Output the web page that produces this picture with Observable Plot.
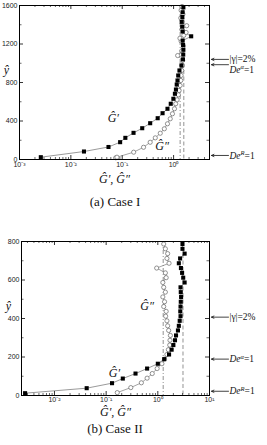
<!DOCTYPE html>
<html><head><meta charset="utf-8">
<script src="https://cdn.jsdelivr.net/npm/d3@7"></script>
<script src="https://cdn.jsdelivr.net/npm/@observablehq/plot@0.6"></script>
<style>
body{margin:0;background:#fff;width:267px;height:445px;position:relative;overflow:hidden;font-family:"Liberation Sans",Arial,sans-serif}
.panel{position:absolute;left:0;width:267px}
.cap{position:absolute;left:0;width:230px;text-align:center;font-family:"Liberation Serif","DejaVu Serif",serif;font-size:13px;color:#111;line-height:15px}
</style></head><body>
<div id="a" class="panel" style="top:0px"></div>
<div class="cap" style="top:194px">(a) Case I</div>
<div id="b" class="panel" style="top:235.7px"></div>
<div class="cap" style="top:421px">(b) Case II</div>
<script>
// ---------- Case I data ----------
const caseI_yGp = [24,83,130,180,225,277,325,377,429,481,527,579,631,683,727,779,821,873,925,977,1040,1090,1140,1190,1235,1280,1330,1380,1430,1480,1530,1580];
const caseI_Gp  = [0.0026,0.018,0.054,0.091,0.115,0.166,0.245,0.35,0.49,0.61,0.76,0.88,0.99,1.06,1.11,1.15,1.19,1.23,1.30,1.42,1.52,1.54,1.55,1.53,1.50,2.2,1.50,1.47,1.44,1.48,1.50,1.55];
const caseI_yGpp = [18,24,76,127,179,225,273,319,371,423,475,527,579,620,672,717,769,821,873,925,977,1030,1080,1130,1180,1230,1260,1290,1320,1350,1390,1430,1470,1510,1550,1590];
const caseI_Gpp  = [0.075,0.079,0.167,0.26,0.35,0.44,0.55,0.66,0.76,0.86,0.95,1.04,1.10,1.17,1.24,1.28,1.34,1.38,1.40,1.44,1.48,1.50,1.20,1.45,1.55,1.40,1.33,1.58,1.75,1.45,1.80,1.48,1.38,1.52,1.40,1.46];
const caseI_xDomain = [0.001, 5];
const caseI_yDomain = [0, 1600];
const caseI_yTickLabels = [0,400,800,1200,1600];
const caseI_yMinor = [200,600,1000,1400];
const caseI_xTickLabels = [0.001,0.01,0.1,1];
const caseI_refDashDot = 1.34;
const caseI_refDash = 1.58;
const caseI_annoArrowY = [1040, 985, 42];
const caseI_annoTextY = [1045, 935, 42];
const caseI_annoText = ["|γ|=2%", "De^α=1", "De^R=1"];
const caseI_seriesLabels = [{x:0.067,y:426,t:"Ĝ′"},{x:0.6,y:135,t:"Ĝ″"}];
const caseI_yhatY = 925;

// ---------- Case II data ----------
const caseII_yGp = [12,38,64,88,114,140,165,189,213,238,262,287,312,338,362,388,412,437,462,487,512,537,562,587,612,637,662,687,712,737,762,787];
const caseII_Gp  = [0.0027,0.042,0.13,0.21,0.37,0.62,1.0,1.33,1.65,1.85,2.0,2.15,2.25,2.45,2.55,2.65,2.75,2.72,2.75,2.78,2.82,2.78,2.75,3.3,3.1,2.95,2.8,2.55,2.7,3.3,3.0,3.0];
const caseII_yGpp = [15,41,66,90,114,140,165,189,213,238,262,287,312,338,362,388,412,437,462,487,512,537,562,587,612,637,662,687,712,737,762,787];
const caseII_Gpp  = [0.164,0.30,0.48,0.62,0.78,0.97,1.2,1.35,1.5,1.6,1.7,1.72,1.75,1.62,1.55,1.5,1.42,1.45,1.3,1.35,1.25,1.4,1.3,1.25,1.45,1.4,0.95,1.65,1.5,1.55,1.4,1.3];
const caseII_xDomain = [0.0023, 10];
const caseII_yDomain = [0, 800];
const caseII_yTickLabels = [0,200,400,600,800];
const caseII_yMinor = [100,300,500,700];
const caseII_xTickLabels = [0.01,0.1,1,10];
const caseII_refDashDot = 1.27;
const caseII_refDash = 3.07;
const caseII_annoArrowY = [407, 189, 22];
const caseII_annoTextY = [407, 189, 22];
const caseII_annoText = ["|γ|=2%", "De^α=1", "De^R=1"];
const caseII_seriesLabels = [{x:0.62,y:466,t:"Ĝ″"},{x:0.145,y:115,t:"Ĝ′"}];
const caseII_yhatY = 466;

const SERIF = "'Liberation Serif','DejaVu Serif',serif";
const sup = {"-":"⁻","0":"⁰","1":"¹","2":"²","3":"³","4":"⁴"};
const fmt = d => "10" + String(Math.round(Math.log10(d))).split("").map(c => sup[c]).join("");

function makePanel(o) {
  const W = 267, H = 189, mT = 5, mB = 30, mR = 58, mL = o.mL;
  const lx0 = Math.log10(o.xDomain[0]), lx1 = Math.log10(o.xDomain[1]);
  const ppd = (W - mL - mR) / (lx1 - lx0);
  const xRight = px => 10 ** (lx1 + px / ppd);
  const xLeft = px => 10 ** (lx0 + px / ppd);
  const yPx = (o.yDomain[1] - o.yDomain[0]) / (H - mT - mB);
  const [y0, y1] = o.yDomain, [x0, x1] = o.xDomain;

  const xMajor = [];
  const xMinor = [];
  for (let k = Math.floor(lx0); k <= Math.ceil(lx1); k++) {
    const v = 10 ** k;
    if (v >= x0 * 0.999 && v <= x1 * 1.001) xMajor.push(v);
    for (let m = 2; m <= 9; m++) { const w = m * 10 ** k; if (w > x0 && w < x1) xMinor.push(w); }
  }
  const yMajor = o.yTickLabels;
  const Gp = o.yGp.map((y, i) => ({x: o.Gp[i], y}));
  const Gpp = o.yGpp.map((y, i) => ({x: o.Gpp[i], y}));
  const annos = o.annoText.map((t, i) => ({t, ya: o.annoArrowY[i], yt: o.annoTextY[i]}));
  const tk = {stroke: "#000", strokeWidth: 0.8};

  const svg = Plot.plot({
    width: W, height: H, marginLeft: mL, marginRight: mR, marginTop: mT, marginBottom: mB,
    style: {fontFamily: "'Liberation Sans',Arial,sans-serif", fontSize: "7px", background: "transparent", color: "#222", overflow: "visible"},
    x: {type: "log", domain: o.xDomain},
    y: {domain: o.yDomain},
    marks: [
      Plot.ruleX([o.refDashDot], {stroke: "#777", strokeWidth: 0.8, strokeDasharray: "4,2,1,2"}),
      Plot.ruleX([o.refDash], {stroke: "#777", strokeWidth: 0.8, strokeDasharray: "4,2.5"}),
      // inward ticks
      Plot.ruleX(xMajor, {x: d => d, y1: y0, y2: y0 + 4 * yPx, ...tk}),
      Plot.ruleX(xMajor, {x: d => d, y1: y1, y2: y1 - 4 * yPx, ...tk}),
      Plot.ruleX(xMinor, {x: d => d, y1: y0, y2: y0 + 2 * yPx, ...tk, strokeWidth: 0.6}),
      Plot.ruleX(xMinor, {x: d => d, y1: y1, y2: y1 - 2 * yPx, ...tk, strokeWidth: 0.6}),
      Plot.ruleY(yMajor, {y: d => d, x1: x0, x2: xLeft(4), ...tk}),
      Plot.ruleY(yMajor, {y: d => d, x1: x1, x2: xRight(-4), ...tk}),
      Plot.ruleY(o.yMinor, {y: d => d, x1: x0, x2: xLeft(2.5), ...tk, strokeWidth: 0.6}),
      Plot.ruleY(o.yMinor, {y: d => d, x1: x1, x2: xRight(-2.5), ...tk, strokeWidth: 0.6}),
      Plot.axisX({ticks: o.xTickLabels, tickSize: 0, tickPadding: o.xPad, tickFormat: fmt, label: null, fontSize: 7}),
      Plot.axisY({ticks: o.yTickLabels, tickSize: 0, tickPadding: 2, tickFormat: d => String(d), label: null, fontSize: 7}),
      // series
      Plot.line(Gpp, {x: "x", y: "y", stroke: "#666", strokeWidth: 0.6}),
      Plot.line(Gp, {x: "x", y: "y", stroke: "#555", strokeWidth: 0.6}),
      Plot.dot(Gpp, {x: "x", y: "y", symbol: "circle", r: 2.1, fill: "#fff", stroke: "#666", strokeWidth: 0.7}),
      Plot.dot(Gp, {x: "x", y: "y", symbol: "square", r: 2.3, fill: "#000"}),
      Plot.frame({stroke: "#000", strokeWidth: 1}),
      // labels
      Plot.text(o.seriesLabels, {x: "x", y: "y", text: "t", fontSize: 12, fontStyle: "italic", fontFamily: SERIF, fill: "#111"}),
      Plot.text(["Ĝ′, Ĝ″"], {frameAnchor: "bottom", dy: o.labelDy, lineAnchor: "middle", fontSize: 12, fontStyle: "italic", fontFamily: SERIF, fill: "#111"}),
      Plot.text(["ŷ"], {x: () => x0, y: () => o.yhatY, dx: -13, fontSize: 12, fontStyle: "italic", fontFamily: SERIF, fill: "#111"}),
      // annotations in the right margin
      Plot.arrow(annos, {x1: () => xRight(19), x2: () => xRight(2), y1: "ya", y2: "ya", stroke: "#111", strokeWidth: 0.8, headLength: 5, headAngle: 50}),
      Plot.text(annos, {x: () => xRight(20), y: "yt", text: "t", textAnchor: "start", fontSize: 9.5, fontFamily: SERIF, fill: "#111"})
    ]
  });
  d3.select(svg).selectAll("text").each(function () {
    const t = this.textContent;
    const m = t.match(/^(De)\^(.)(.*)$/);
    if (!m) return;
    const el = d3.select(this);
    el.text(null);
    el.append("tspan").attr("font-style", "italic").text(m[1]);
    el.append("tspan").attr("dy", "-3.5").attr("font-size", "6.5").attr("font-style", "italic").text(m[2]);
    el.append("tspan").attr("dy", "3.5").text(m[3]);
  });
  return svg;
}

document.getElementById("a").append(makePanel({
  mL: 19, labelDy: 20, xPad: 3, xDomain: caseI_xDomain, yDomain: caseI_yDomain, yTickLabels: caseI_yTickLabels, yMinor: caseI_yMinor,
  xTickLabels: caseI_xTickLabels, Gp: caseI_Gp, yGp: caseI_yGp, Gpp: caseI_Gpp, yGpp: caseI_yGpp,
  refDashDot: caseI_refDashDot, refDash: caseI_refDash, annoArrowY: caseI_annoArrowY, annoTextY: caseI_annoTextY,
  annoText: caseI_annoText, seriesLabels: caseI_seriesLabels, yhatY: caseI_yhatY
}));
document.getElementById("b").append(makePanel({
  mL: 21, labelDy: 16.5, xPad: 2, xDomain: caseII_xDomain, yDomain: caseII_yDomain, yTickLabels: caseII_yTickLabels, yMinor: caseII_yMinor,
  xTickLabels: caseII_xTickLabels, Gp: caseII_Gp, yGp: caseII_yGp, Gpp: caseII_Gpp, yGpp: caseII_yGpp,
  refDashDot: caseII_refDashDot, refDash: caseII_refDash, annoArrowY: caseII_annoArrowY, annoTextY: caseII_annoTextY,
  annoText: caseII_annoText, seriesLabels: caseII_seriesLabels, yhatY: caseII_yhatY
}));
</script>
</body></html>
